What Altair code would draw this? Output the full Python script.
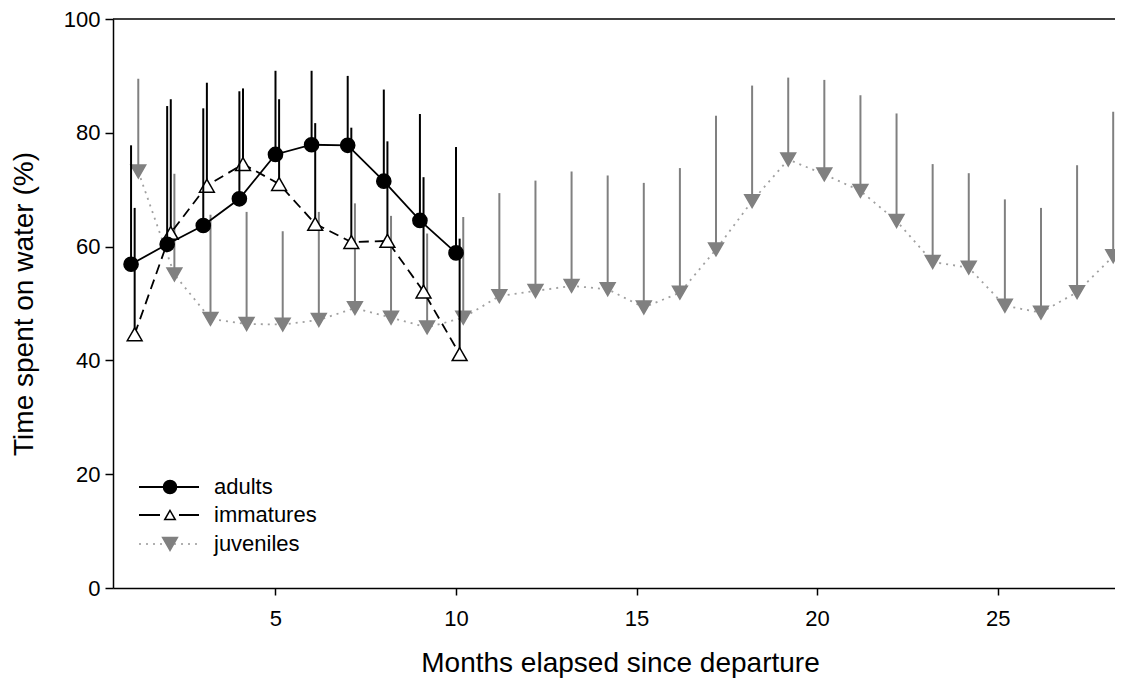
import altair as alt
import pandas as pd

# ---- data ----
months_adults = list(range(1, 11))
adults_mean = [56.9, 60.4, 63.7, 68.4, 76.2, 77.9, 77.8, 71.5, 64.6, 58.9]
adults_upper = [77.8, 84.7, 84.3, 87.3, 90.9, 90.9, 90.0, 87.6, 83.3, 77.5]

months_immatures = list(range(1, 11))
immatures_mean = [44.6, 62.4, 70.7, 74.5, 71.0, 64.0, 60.8, 61.0, 52.1, 41.1]
immatures_upper = [66.8, 85.9, 88.8, 87.8, 85.9, 81.7, 80.9, 78.5, 72.2, 61.4]

months_juveniles = list(range(1, 29))
juveniles_mean = [73.2, 55.1, 47.3, 46.4, 46.3, 47.1, 49.2, 47.5, 45.8, 47.5,
                  51.3, 52.2, 53.1, 52.5, 49.3, 51.9, 59.5, 68.0, 75.3, 72.7,
                  69.8, 64.5, 57.3, 56.3, 49.6, 48.4, 52.0, 58.3]
juveniles_upper = [89.5, 72.8, 65.6, 66.1, 62.7, 66.1, 67.6, 65.4, 62.3, 65.2,
                   69.4, 71.6, 73.2, 72.5, 71.2, 73.8, 83.0, 88.3, 89.7, 89.3,
                   86.6, 83.4, 74.5, 72.9, 68.3, 66.8, 74.3, 83.7]

series_names = ["adults", "immatures", "juveniles"]
dodge = [0.0, 0.1, 0.2]
x_ticks = [5, 10, 15, 20, 25]
y_ticks = [0, 20, 40, 60, 80, 100]

FONT = "Liberation Sans"
GRAY = "#808080"


def frame(i, months, mean, upper):
    return pd.DataFrame({
        "x": [m + dodge[i] for m in months],
        "mean": mean,
        "upper": upper,
        "series": series_names[i],
    })


df_ad = frame(0, months_adults, adults_mean, adults_upper)
df_im = frame(1, months_immatures, immatures_mean, immatures_upper)
df_ju = frame(2, months_juveniles, juveniles_mean, juveniles_upper)

X = alt.X("x:Q",
          scale=alt.Scale(domain=[0.5, 28.25], nice=False, zero=False),
          axis=alt.Axis(values=x_ticks, title="Months elapsed since departure",
                        tickSize=7, labelPadding=13, titleX=507, titleY=75,
                        titleBaseline="middle"))
Y = alt.Y("mean:Q",
          scale=alt.Scale(domain=[0, 100], nice=False),
          axis=alt.Axis(values=y_ticks, title="Time spent on water (%)",
                        tickSize=8, labelPadding=5, titleX=-89,
                        titleBaseline="middle"))


def series_layers(df, color, dash, shape, fill, line_color, line_width, size):
    base = alt.Chart(df)
    bars = base.mark_rule(color=color, strokeWidth=2).encode(
        x=X, y=Y, y2="upper:Q")
    line_kw = dict(color=line_color, strokeWidth=line_width)
    if dash:
        line_kw["strokeDash"] = dash
    line = base.mark_line(**line_kw).encode(x=X, y=Y)
    pts = base.mark_point(shape=shape, filled=True, fill=fill, stroke=color,
                          strokeWidth=1.5, size=size,
                          opacity=1).encode(x=X, y=Y)
    return [bars, line, pts]


juv = series_layers(df_ju, GRAY, [2, 5], "triangle-down", GRAY, "#a0a0a0", 1.8, 220)
imm = series_layers(df_im, "black", [10, 6], "triangle-up", "white", "black", 1.8, 220)
adu = series_layers(df_ad, "black", None, "circle", "black", "black", 1.8, 200)

# top frame line
top = alt.Chart(pd.DataFrame({"v": [0]})).mark_rule(
    color="black", strokeWidth=1.5).encode(y=alt.value(0))

# manual legend (pixel layout within plot area)
legend_layers = []
leg_y = [468, 496, 525]
leg_style = [
    (None, "circle", "black", "black", "black", 170),
    ([21, 19], "triangle-up", "white", "black", "black", 110),
    ([2, 5], "triangle-down", GRAY, GRAY, "#b0b0b0", 220),
]
for name, yy, (dash, shape, fill, stroke, lcol, sz) in zip(series_names, leg_y, leg_style):
    d = pd.DataFrame({"s": [name]})
    kw = dict(color=lcol, strokeWidth=1.8)
    if dash:
        kw["strokeDash"] = dash
    legend_layers.append(alt.Chart(d).mark_rule(**kw).encode(
        x=alt.value(26), x2=alt.value(86), y=alt.value(yy)))
    legend_layers.append(alt.Chart(d).mark_point(
        shape=shape, filled=True, fill=fill, stroke=stroke, strokeWidth=1.5,
        size=sz, opacity=1).encode(x=alt.value(57), y=alt.value(yy)))
    legend_layers.append(alt.Chart(d).mark_text(
        align="left", baseline="middle", fontSize=22, font=FONT,
        color="black").encode(x=alt.value(101), y=alt.value(yy), text="s:N"))

chart = alt.layer(*juv, *imm, *adu, top, *legend_layers).properties(
    width=1002, height=569,
    padding={"left": 105, "top": 11, "right": 0, "bottom": 96},
    autosize=alt.AutoSizeParams(type="none"),
    background="white",
).configure_view(stroke=None).configure_axis(
    grid=False, domainColor="black", domainWidth=1.5, tickColor="black",
    tickWidth=1.5, labelColor="black", labelFont=FONT, labelFontSize=22,
    titleFont=FONT, titleFontSize=28, titleFontWeight="normal",
    titleColor="black",
)

chart.save("out.html", embed_options={"renderer": "svg", "actions": False})
